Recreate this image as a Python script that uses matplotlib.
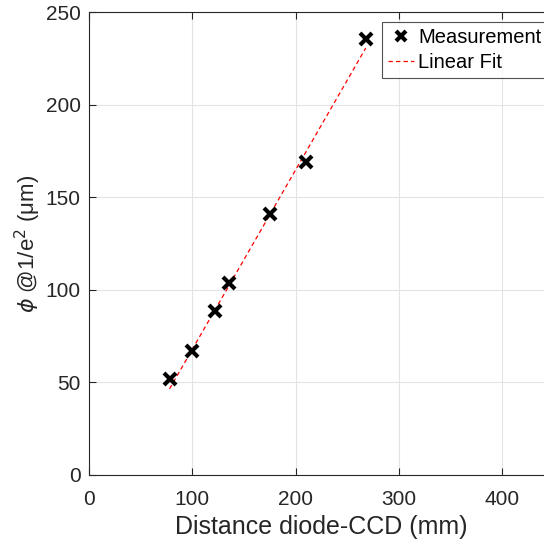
import matplotlib.pyplot as plt

plt.rcParams['font.family'] = ['Liberation Sans', 'DejaVu Sans']

# measured spot size vs distance
distance = [78, 100, 122, 136, 175, 210, 268]
diameter = [51.6, 67, 88.7, 103.6, 140.7, 169, 235.5]

# linear fit, endpoints
fit_x = [78, 268]
fit_y = [46.5, 230.5]

x_ticks = [0, 100, 200, 300, 400]
y_ticks = [0, 50, 100, 150, 200, 250]

fig = plt.figure(figsize=(5.44, 5.47), dpi=100)
ax_w = 4.5 * 103.25
ax = fig.add_axes([89 / 544, 72 / 547, ax_w / 544, 463 / 547])

ax.plot(distance, diameter, linestyle='none', marker='x', color='black',
        markersize=8, markeredgewidth=3, label='Measurement', zorder=3)
ax.plot(fit_x, fit_y, linestyle=(0, (3.5, 2.5)), color='#ff0000', linewidth=0.9,
        label='Linear Fit', zorder=2)

ax.set_xlim(0, 450)
ax.set_ylim(0, 250)
ax.set_xticks(x_ticks)
ax.set_yticks(y_ticks)
ax.grid(True, color='#e3e3e3', linewidth=0.8)
ax.set_axisbelow(True)

for s in ax.spines.values():
    s.set_color('#262626')
    s.set_linewidth(0.8)
ax.tick_params(direction='in', length=5, width=0.8, colors='#262626',
               labelsize=15, top=True, right=True)
ax.tick_params(axis='x', pad=11)
ax.tick_params(axis='y', pad=6)

ax.set_xlabel('Distance diode-CCD (mm)', fontsize=18, color='#262626', labelpad=4)
ax.set_ylabel(r'$\phi$ @1/e$^2$ (μm)', fontsize=16, color='#262626', labelpad=2)

leg = ax.legend(loc='upper left', bbox_to_anchor=((382 - 89) / ax_w, 1 - 10 / 463),
                bbox_transform=ax.transAxes, fontsize=14.5, frameon=True, fancybox=False,
                edgecolor='#262626', handlelength=1.3, handletextpad=0.2,
                borderpad=0.3, labelspacing=0.3, borderaxespad=0, markerscale=0.85)
leg.get_frame().set_linewidth(0.8)

fig.savefig('out.png', dpi=100)
